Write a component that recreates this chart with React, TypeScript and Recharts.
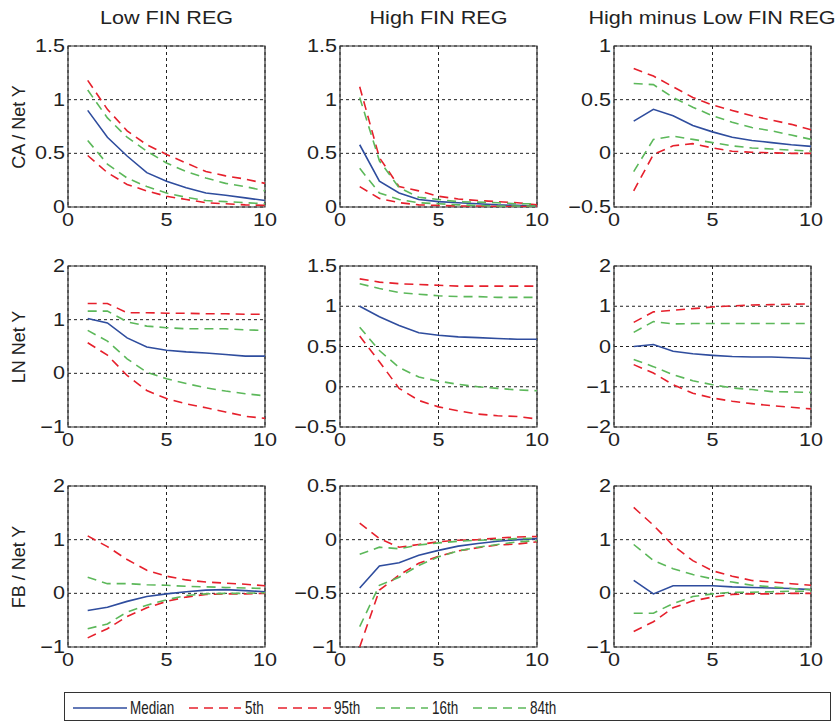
import React from "react"
import { LineChart, Line, XAxis, YAxis, CartesianGrid, ReferenceArea } from "recharts"

// horizons 1..10
const horizons = [1, 2, 3, 4, 5, 6, 7, 8, 9, 10]
const xTicks = [0, 5, 10]

const colTitles = ["Low FIN REG", "High FIN REG", "High minus Low FIN REG"]
const rowLabels = ["CA / Net Y", "LN Net Y", "FB / Net Y"]

// CA / Net Y
const caLow = {
  median: [0.9, 0.65, 0.475, 0.32, 0.24, 0.18, 0.13, 0.11, 0.085, 0.06],
  p5: [0.48, 0.32, 0.21, 0.15, 0.1, 0.07, 0.04, 0.03, 0.02, 0.015],
  p95: [1.18, 0.91, 0.71, 0.58, 0.49, 0.41, 0.33, 0.29, 0.26, 0.22],
  p16: [0.62, 0.4, 0.27, 0.19, 0.13, 0.09, 0.06, 0.05, 0.04, 0.03],
  p84: [1.09, 0.83, 0.65, 0.52, 0.41, 0.33, 0.27, 0.22, 0.19, 0.15],
}
const caHigh = {
  median: [0.58, 0.24, 0.13, 0.07, 0.05, 0.04, 0.03, 0.02, 0.015, 0.01],
  p5: [0.19, 0.08, 0.04, 0.02, 0.015, 0.01, 0.01, 0.005, 0.005, 0.005],
  p95: [1.12, 0.46, 0.19, 0.15, 0.1, 0.075, 0.06, 0.05, 0.04, 0.02],
  p16: [0.36, 0.13, 0.07, 0.04, 0.03, 0.02, 0.015, 0.01, 0.01, 0.01],
  p84: [1.02, 0.43, 0.18, 0.09, 0.07, 0.05, 0.045, 0.04, 0.03, 0.03],
}
const caDiff = {
  median: [0.3, 0.41, 0.35, 0.26, 0.2, 0.15, 0.12, 0.1, 0.08, 0.065],
  p5: [-0.35, -0.01, 0.07, 0.09, 0.05, 0.02, 0.01, 0.005, 0, 0],
  p95: [0.79, 0.72, 0.62, 0.52, 0.45, 0.4, 0.35, 0.31, 0.27, 0.22],
  p16: [-0.17, 0.13, 0.16, 0.13, 0.1, 0.07, 0.05, 0.04, 0.03, 0.02],
  p84: [0.65, 0.64, 0.52, 0.43, 0.35, 0.29, 0.24, 0.21, 0.17, 0.13],
}

// LN Net Y
const lnLow = {
  median: [1.02, 0.94, 0.66, 0.49, 0.43, 0.4, 0.38, 0.35, 0.32, 0.32],
  p5: [0.57, 0.34, -0.04, -0.32, -0.47, -0.57, -0.64, -0.72, -0.8, -0.84],
  p95: [1.3, 1.3, 1.13, 1.13, 1.12, 1.12, 1.11, 1.11, 1.1, 1.1],
  p16: [0.8, 0.6, 0.27, 0.02, -0.1, -0.19, -0.27, -0.33, -0.38, -0.42],
  p84: [1.16, 1.16, 0.96, 0.88, 0.85, 0.83, 0.83, 0.83, 0.81, 0.8],
}
const lnHigh = {
  median: [1.0, 0.87, 0.76, 0.67, 0.64, 0.62, 0.61, 0.6, 0.59, 0.59],
  p5: [0.63, 0.31, -0.02, -0.17, -0.25, -0.3, -0.34, -0.36, -0.37, -0.4],
  p95: [1.34, 1.3, 1.28, 1.27, 1.26, 1.25, 1.25, 1.25, 1.25, 1.25],
  p16: [0.74, 0.45, 0.24, 0.12, 0.07, 0.03, 0.0, -0.02, -0.04, -0.05],
  p84: [1.28, 1.22, 1.17, 1.15, 1.13, 1.12, 1.12, 1.11, 1.11, 1.11],
}
const lnDiff = {
  median: [0.0, 0.05, -0.12, -0.18, -0.22, -0.25, -0.26, -0.26, -0.28, -0.3],
  p5: [-0.45, -0.66, -0.95, -1.16, -1.28, -1.36, -1.42, -1.47, -1.51, -1.55],
  p95: [0.6, 0.86, 0.9, 0.94, 0.98, 1.01, 1.03, 1.04, 1.05, 1.06],
  p16: [-0.32, -0.5, -0.7, -0.85, -0.95, -1.03, -1.07, -1.12, -1.13, -1.14],
  p84: [0.35, 0.62, 0.56, 0.57, 0.57, 0.57, 0.57, 0.57, 0.57, 0.57],
}

// FB / Net Y
const fbLow = {
  median: [-0.32, -0.26, -0.15, -0.06, -0.01, 0.03, 0.06, 0.07, 0.05, 0.03],
  p5: [-0.83, -0.66, -0.43, -0.27, -0.15, -0.07, -0.02, -0.01, -0.01, 0.0],
  p95: [1.07, 0.87, 0.63, 0.43, 0.32, 0.25, 0.21, 0.19, 0.17, 0.14],
  p16: [-0.66, -0.57, -0.35, -0.22, -0.12, -0.04, -0.01, 0.0, 0.0, 0.01],
  p84: [0.3, 0.18, 0.18, 0.16, 0.15, 0.13, 0.12, 0.11, 0.1, 0.09],
}
const fbHigh = {
  median: [-0.45, -0.245, -0.215, -0.145, -0.1, -0.06, -0.035, -0.015, 0.0, 0.01],
  p5: [-1.0, -0.47, -0.33, -0.22, -0.155, -0.105, -0.075, -0.05, -0.04, -0.02],
  p95: [0.155, 0.01, -0.07, -0.045, -0.02, -0.005, 0.0, 0.015, 0.025, 0.03],
  p16: [-0.81, -0.425, -0.35, -0.24, -0.16, -0.105, -0.07, -0.045, -0.02, -0.01],
  p84: [-0.135, -0.07, -0.085, -0.05, -0.03, -0.015, -0.005, 0.0, 0.01, 0.015],
}
const fbDiff = {
  median: [0.24, -0.01, 0.14, 0.14, 0.14, 0.12, 0.11, 0.1, 0.09, 0.07],
  p5: [-0.71, -0.53, -0.27, -0.14, -0.07, -0.02, -0.01, -0.01, 0, 0],
  p95: [1.6, 1.27, 0.89, 0.61, 0.42, 0.32, 0.24, 0.21, 0.18, 0.15],
  p16: [-0.37, -0.37, -0.19, -0.06, -0.01, 0.02, 0.02, 0.03, 0.04, 0.04],
  p84: [0.91, 0.61, 0.46, 0.35, 0.27, 0.21, 0.15, 0.12, 0.09, 0.07],
}

const FONT = '"Liberation Sans", Arial, sans-serif'
const BLUE = "#2f4d9e"
const RED = "#e6202c"
const GREEN = "#5cb85a"

const seriesStyle = [
  { key: "median", name: "Median", color: BLUE, dash: undefined },
  { key: "p5", name: "5th", color: RED, dash: "9 6" },
  { key: "p95", name: "95th", color: RED, dash: "9 6" },
  { key: "p16", name: "16th", color: GREEN, dash: "9 6" },
  { key: "p84", name: "84th", color: GREEN, dash: "9 6" },
]

const panels = [
  [
    { s: caLow, domain: [0, 1.5], ticks: [0, 0.5, 1, 1.5] },
    { s: caHigh, domain: [0, 1.5], ticks: [0, 0.5, 1, 1.5] },
    { s: caDiff, domain: [-0.5, 1], ticks: [-0.5, 0, 0.5, 1] },
  ],
  [
    { s: lnLow, domain: [-1, 2], ticks: [-1, 0, 1, 2] },
    { s: lnHigh, domain: [-0.5, 1.5], ticks: [-0.5, 0, 0.5, 1, 1.5] },
    { s: lnDiff, domain: [-2, 2], ticks: [-2, -1, 0, 1, 2] },
  ],
  [
    { s: fbLow, domain: [-1, 2], ticks: [-1, 0, 1, 2] },
    { s: fbHigh, domain: [-1, 0.5], ticks: [-1, -0.5, 0, 0.5] },
    { s: fbDiff, domain: [-1, 2], ticks: [-1, 0, 1, 2] },
  ],
]

const colLeft = [68, 340, 614]
const rowTop = [46, 266, 486]
const PW = 197
const PH = 161

const fmt = (v: number) => String(v).replace("-", "\u2212")

const YTick = (props: any) => {
  const { x, y, payload } = props
  return (
    <text transform={`translate(${x},${y}) scale(1.2,1)`} textAnchor="end" dy={6} fontSize={18} fill="#222" fontFamily={FONT}>
      {fmt(payload.value)}
    </text>
  )
}

const XTick = (props: any) => {
  const { x, y, payload } = props
  return (
    <text transform={`translate(${x},${y}) scale(1.2,1)`} textAnchor="middle" dy={13} fontSize={18} fill="#222" fontFamily={FONT}>
      {payload.value}
    </text>
  )
}

function Panel({ s, domain, ticks, left, top }: any) {
  const data = horizons.map((h, i) => ({
    h,
    median: s.median[i],
    p5: s.p5[i],
    p95: s.p95[i],
    p16: s.p16[i],
    p84: s.p84[i],
  }))
  return (
    <div style={{ position: "absolute", left: left - 45, top: top - 10 }}>
      <LineChart width={45 + PW + 22} height={10 + PH + 30} data={data} margin={{ top: 10, right: 22, left: 0, bottom: 0 }}>
        <CartesianGrid stroke="#222" strokeDasharray="3 3" strokeWidth={1} />
        <XAxis
          dataKey="h"
          type="number"
          domain={[0, 10]}
          ticks={xTicks}
          height={30}
          axisLine={false}
          tickLine={false}
          tickSize={0}
          tickMargin={6}
          tick={XTick}
        />
        <YAxis
          type="number"
          domain={domain}
          ticks={ticks}
          width={45}
          allowDataOverflow
          axisLine={false}
          tickLine={false}
          tickSize={0}
          tickMargin={3}
          tick={YTick}
        />
        <ReferenceArea x1={0} x2={10} y1={domain[0]} y2={domain[1]} fill="none" stroke="#333" strokeWidth={1.2} />
        {seriesStyle.map((st) => (
          <Line
            key={st.key}
            dataKey={st.key}
            type="linear"
            stroke={st.color}
            strokeWidth={1.6}
            strokeDasharray={st.dash}
            dot={false}
            activeDot={false}
            isAnimationActive={false}
          />
        ))}
      </LineChart>
    </div>
  )
}

function LegendBox() {
  const items = [
    { x1: 73, x2: 127, tx: 130, ...seriesStyle[0] },
    { x1: 189, x2: 241, tx: 245, ...seriesStyle[1] },
    { x1: 278, x2: 331, tx: 334, ...seriesStyle[2] },
    { x1: 376, x2: 428, tx: 432, ...seriesStyle[3] },
    { x1: 473, x2: 526, tx: 530, ...seriesStyle[4] },
  ]
  return (
    <svg width={835} height={721} style={{ position: "absolute", left: 0, top: 0, pointerEvents: "none" }}>
      <rect x={64.5} y={692.5} width={766} height={28} fill="none" stroke="#333" strokeWidth={1} />
      {items.map((it) => (
        <g key={it.key}>
          <line x1={it.x1} x2={it.x2} y1={708} y2={708} stroke={it.color} strokeWidth={1.6} strokeDasharray={it.dash ? "9 6" : undefined} />
          <text transform={`translate(${it.tx},714) scale(0.75,1)`} fontSize={18} fill="#222" fontFamily={FONT}>
            {it.name}
          </text>
        </g>
      ))}
    </svg>
  )
}

export default function App() {
  return (
    <div style={{ position: "absolute", left: 0, top: 0, width: 835, height: 721, background: "#fff", fontFamily: FONT, color: "#222" }}>
      {colTitles.map((t, c) => (
        <div
          key={t}
          style={{
            position: "absolute",
            left: colLeft[c] - 40,
            width: PW + 80,
            top: 7,
            textAlign: "center",
            fontSize: 18,
            lineHeight: "22px",
            whiteSpace: "nowrap",
          }}
        >
          <span style={{ display: "inline-block", transform: "scaleX(1.2)" }}>{t}</span>
        </div>
      ))}
      {rowLabels.map((t, r) => (
        <div
          key={t}
          style={{
            position: "absolute",
            left: 19,
            top: rowTop[r] + PH / 2,
            transform: "translate(-50%,-50%) rotate(-90deg)",
            fontSize: 18,
            lineHeight: "20px",
            whiteSpace: "nowrap",
          }}
        >
          {t}
        </div>
      ))}
      {panels.map((row, r) =>
        row.map((p, c) => <Panel key={`${r}-${c}`} {...p} left={colLeft[c]} top={rowTop[r]} />)
      )}
      <LegendBox />
    </div>
  )
}
